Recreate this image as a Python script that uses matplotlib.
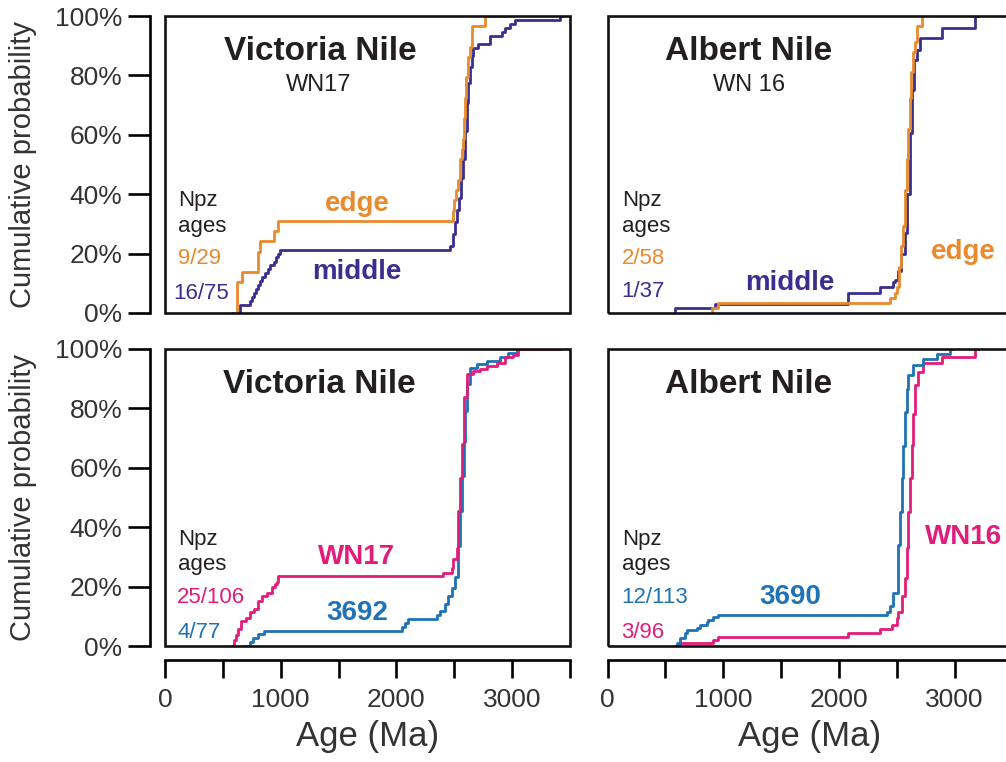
import matplotlib
matplotlib.use("Agg")
import matplotlib.pyplot as plt
from matplotlib.patches import Rectangle

plt.rcParams['font.family'] = ['Liberation Sans', 'DejaVu Sans']

ORANGE = '#E88A2E'
INDIGO = '#3A2F8E'
MAGENTA = '#E11D7B'
BLUE = '#1F72B5'
DARK = '#231F20'

# ---- data: step curves (age in Ma, cumulative %) ----
# Victoria Nile WN17 (top left)
vn_edge_age = [600, 625, 663, 806, 825, 945, 975, 2492, 2500, 2515, 2535, 2550, 2565,
               2573, 2583, 2593, 2605, 2621, 2635, 2650, 2765, 3000]
vn_edge_cum = [0, 10.3, 13.8, 20.7, 24.1, 27.6, 31.0, 34.5, 37.9, 41.4, 44.8, 51.7, 55.2,
               58.6, 65.5, 72.4, 79.3, 86.2, 89.7, 96.6, 100, 100]
vn_mid_age = [590, 645, 735, 750, 770, 790, 806, 820, 840, 860, 890, 910, 940, 960, 980, 994,
              2463, 2492, 2506, 2521, 2544, 2560, 2573, 2590, 2607, 2622, 2636, 2650, 2665,
              2708, 2809, 2910, 2938, 2981, 3025, 3414, 3430]
vn_mid_cum = [0, 2.7, 4.0, 5.3, 6.7, 8.0, 9.3, 10.7, 12.0, 13.3, 14.7, 16.0, 17.3, 18.7, 20.0, 21.3,
              22.7, 26.7, 30.7, 34.7, 38.7, 45.3, 52.0, 61.3, 70.7, 77.3, 82.7, 86.7, 89.3,
              90.7, 93.3, 94.7, 96.0, 97.3, 98.7, 100, 100]

# Albert Nile WN 16 (top right)
an_mid_age = [583, 583, 929, 2081, 2355, 2470, 2485, 2513, 2540, 2571, 2590, 2614, 2635,
              2649, 2672, 2701, 2888, 3180, 3200]
an_mid_cum = [0, 1.7, 3.1, 6.7, 8.7, 10.5, 11.0, 14.0, 20.0, 26.8, 40.0, 60.6, 75.0,
              85.2, 88.6, 92.5, 96.0, 100, 100]
an_edge_age = [900, 900, 958, 2441, 2485, 2499, 2520, 2540, 2557, 2575, 2590, 2600, 2612,
               2625, 2640, 2657, 2672, 2715, 2730]
an_edge_cum = [0, 1.7, 3.4, 5.2, 6.9, 8.6, 15.5, 22.4, 29.3, 41.4, 51.7, 62.1, 72.4,
               81.0, 87.9, 91.4, 96.6, 100, 100]

# Victoria Nile (bottom left)
wn17_age = [580, 600, 615, 634, 657, 700, 735, 770, 806, 835, 878, 922, 950, 965, 979,
            2405, 2477, 2490, 2521, 2535, 2550, 2564, 2584, 2607, 2665, 2722, 2780, 2866,
            2938, 3010, 3053, 3414]
wn17_cum = [0, 1.9, 3.8, 5.7, 8.5, 9.4, 11.3, 12.3, 15.1, 17.0, 17.9, 19.8, 20.8, 21.7, 23.6,
            24.5, 26.4, 29.2, 33.0, 45.3, 56.6, 67.9, 84.0, 91.5, 92.5, 93.4, 94.3, 95.3,
            97.2, 98.1, 100, 100]
s3692_age = [663, 735, 764, 800, 858, 2045, 2074, 2100, 2348, 2377, 2420, 2448, 2477, 2506,
             2535, 2550, 2564, 2580, 2593, 2613, 2636, 2693, 2780, 2895, 2967, 3039, 3060]
s3692_cum = [0, 1.3, 2.6, 3.9, 5.2, 6.5, 7.8, 9.1, 10.4, 11.7, 14.3, 16.9, 19.5, 23.4,
             33.8, 45.5, 57.1, 68.8, 79.2, 88.3, 93.5, 94.8, 96.1, 97.4, 98.7, 100, 100]

# Albert Nile (bottom right)
s3690_age = [583, 600, 627, 670, 684, 771, 799, 857, 871, 915, 958, 2413, 2441, 2470, 2513,
             2530, 2542, 2557, 2571, 2585, 2600, 2643, 2729, 2845, 2960, 2980]
s3690_cum = [0, 0.9, 2.6, 4.4, 5.3, 6.2, 7.1, 8.0, 8.8, 9.7, 10.6, 11.5, 13.3, 17.7, 34.0,
             45.1, 56.6, 67.3, 78.8, 86.7, 91.2, 94.7, 96.5, 98.2, 100, 100]
wn16_age = [610, 627, 915, 958, 2081, 2355, 2456, 2499, 2513, 2545, 2571, 2585, 2600, 2615,
            2629, 2643, 2657, 2686, 2729, 2888, 3176, 3200]
wn16_cum = [0, 1.0, 2.1, 3.1, 4.5, 5.6, 7.1, 9.3, 11.5, 17.0, 22.8, 33.0, 45.2, 56.5,
            67.7, 78.0, 87.9, 92.4, 95.2, 97.4, 100, 100]

y_ticks = [0, 20, 40, 60, 80, 100]
y_labels = ['0%', '20%', '40%', '60%', '80%', '100%']
x_ticks = [0, 500, 1000, 1500, 2000, 2500, 3000, 3500]
x_labels = ['0', '', '1000', '', '2000', '', '3000', '']

W, H = 1006, 762
fig = plt.figure(figsize=(W / 100, H / 100), dpi=100)


def px_rect(left, top, right, bottom):
    return [left / W, 1 - bottom / H, (right - left) / W, (bottom - top) / H]


def setup(ax, show_y, show_x):
    ax.set_xlim(0, 3500)
    ax.set_ylim(0, 100)
    for s in ax.spines.values():
        s.set_visible(False)
    ax.add_patch(Rectangle((0, 0), 1, 1, transform=ax.transAxes, fill=False,
                           lw=1.9, ec='#111111', clip_on=False, zorder=5))
    if show_y:
        sp = ax.spines['left']
        sp.set_visible(True)
        sp.set_position(('outward', 10.8))
        sp.set_bounds(0, 100)
        sp.set_linewidth(1.9)
        ax.set_yticks(y_ticks)
        ax.set_yticklabels(y_labels)
        ax.tick_params(axis='y', length=15.8, width=1.9, direction='out', pad=4,
                       labelsize=19, labelcolor='#333333')
        ax.set_ylabel('Cumulative probability', fontsize=21, color='#333333')
        ax.yaxis.set_label_coords(-0.316, 0.5)
    else:
        ax.set_yticks([])
    if show_x:
        sp = ax.spines['bottom']
        sp.set_visible(True)
        sp.set_position(('outward', 10))
        sp.set_bounds(0, 3500)
        sp.set_linewidth(1.9)
        ax.set_xticks(x_ticks)
        ax.set_xticklabels(x_labels)
        ax.tick_params(axis='x', length=13, width=1.9, direction='out', pad=7,
                       labelsize=19, labelcolor='#333333')
        ax.set_xlabel('Age (Ma)', fontsize=25, color='#333333')
        ax.xaxis.set_label_coords(0.5, -0.249)
    else:
        ax.set_xticks([])


def curve(ax, ages, cum, color):
    ax.step(ages, cum, where='post', color=color, lw=2.0, zorder=3)


def txt(ax, x, y, s, color=DARK, size=16, weight='normal', ha='left'):
    ax.text(x, y, s, transform=ax.transAxes, color=color, fontsize=size,
            fontweight=weight, ha=ha, va='center')


ax_tl = fig.add_axes(px_rect(165, 16, 570, 313))
ax_tr = fig.add_axes(px_rect(607.5, 16, 1012.5, 313))
ax_bl = fig.add_axes(px_rect(165, 349, 570, 646))
ax_br = fig.add_axes(px_rect(607.5, 349, 1012.5, 646))

setup(ax_tl, True, False)
setup(ax_tr, False, False)
setup(ax_bl, True, True)
setup(ax_br, False, True)

# top left
curve(ax_tl, vn_mid_age, vn_mid_cum, INDIGO)
curve(ax_tl, vn_edge_age, vn_edge_cum, ORANGE)
txt(ax_tl, 0.383, 0.879, 'Victoria Nile', size=24, weight='bold', ha='center')
txt(ax_tl, 0.380, 0.768, 'WN17', size=17, ha='center')
txt(ax_tl, 0.032, 0.380, 'Npz')
txt(ax_tl, 0.032, 0.290, 'ages')
txt(ax_tl, 0.032, 0.185, '9/29', color=ORANGE)
txt(ax_tl, 0.020, 0.067, '16/75', color=INDIGO)
txt(ax_tl, 0.474, 0.367, 'edge', color=ORANGE, size=20, weight='bold', ha='center')
txt(ax_tl, 0.474, 0.138, 'middle', color=INDIGO, size=20, weight='bold', ha='center')

# top right
curve(ax_tr, an_mid_age, an_mid_cum, INDIGO)
curve(ax_tr, an_edge_age, an_edge_cum, ORANGE)
txt(ax_tr, 0.349, 0.879, 'Albert Nile', size=24, weight='bold', ha='center')
txt(ax_tr, 0.349, 0.768, 'WN 16', size=17, ha='center')
txt(ax_tr, 0.036, 0.380, 'Npz')
txt(ax_tr, 0.036, 0.290, 'ages')
txt(ax_tr, 0.036, 0.185, '2/58', color=ORANGE)
txt(ax_tr, 0.033, 0.071, '1/37', color=INDIGO)
txt(ax_tr, 0.451, 0.101, 'middle', color=INDIGO, size=20, weight='bold', ha='center')
txt(ax_tr, 0.878, 0.205, 'edge', color=ORANGE, size=20, weight='bold', ha='center')

# bottom left
curve(ax_bl, s3692_age, s3692_cum, BLUE)
curve(ax_bl, wn17_age, wn17_cum, MAGENTA)
txt(ax_bl, 0.380, 0.879, 'Victoria Nile', size=24, weight='bold', ha='center')
txt(ax_bl, 0.032, 0.357, 'Npz')
txt(ax_bl, 0.032, 0.273, 'ages')
txt(ax_bl, 0.030, 0.162, '25/106', color=MAGENTA)
txt(ax_bl, 0.030, 0.047, '4/77', color=BLUE)
txt(ax_bl, 0.474, 0.300, 'WN17', color=MAGENTA, size=20, weight='bold', ha='center')
txt(ax_bl, 0.474, 0.111, '3692', color=BLUE, size=20, weight='bold', ha='center')

# bottom right
curve(ax_br, wn16_age, wn16_cum, MAGENTA)
curve(ax_br, s3690_age, s3690_cum, BLUE)
txt(ax_br, 0.349, 0.879, 'Albert Nile', size=24, weight='bold', ha='center')
txt(ax_br, 0.036, 0.357, 'Npz')
txt(ax_br, 0.036, 0.273, 'ages')
txt(ax_br, 0.033, 0.162, '12/113', color=BLUE)
txt(ax_br, 0.033, 0.047, '3/96', color=MAGENTA)
txt(ax_br, 0.451, 0.165, '3690', color=BLUE, size=20, weight='bold', ha='center')
txt(ax_br, 0.878, 0.367, 'WN16', color=MAGENTA, size=20, weight='bold', ha='center')

fig.savefig('out.png', dpi=100)
